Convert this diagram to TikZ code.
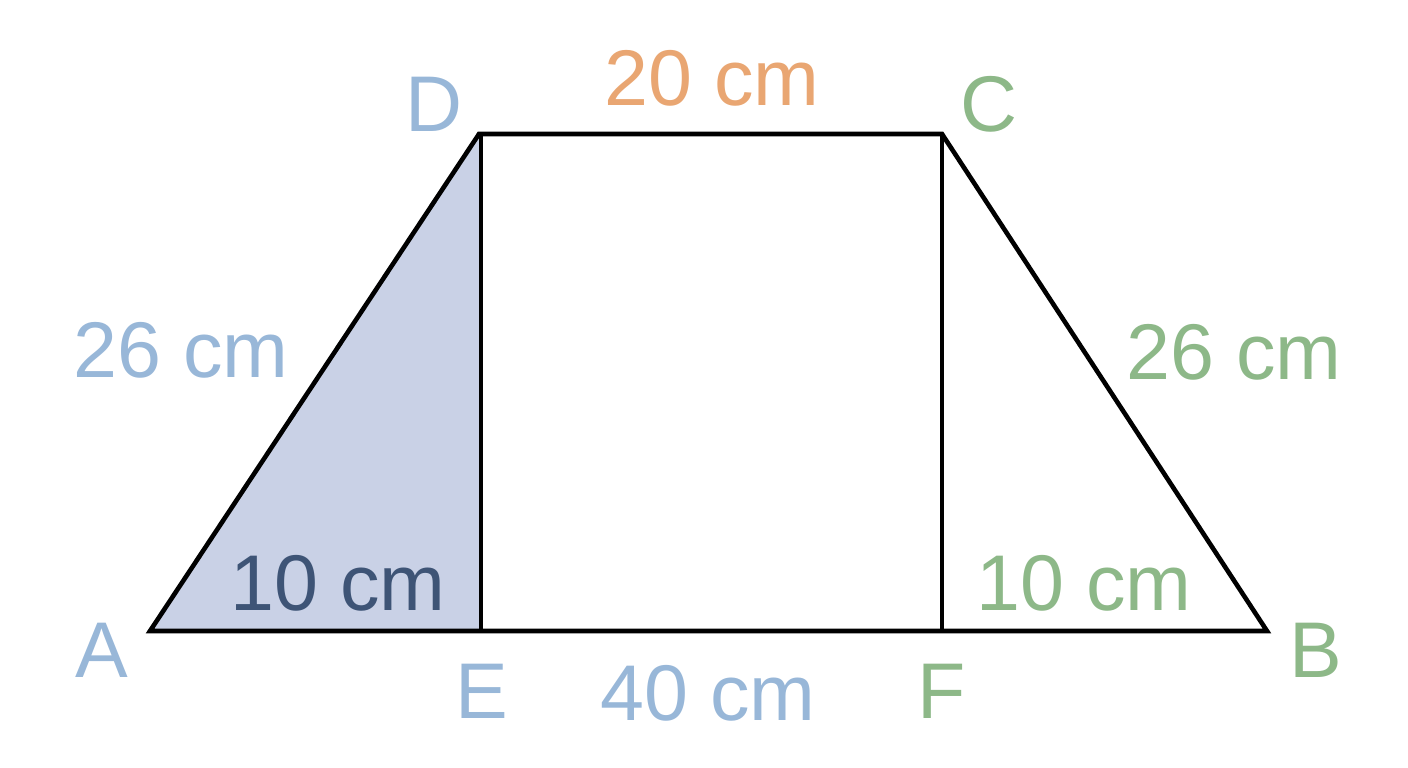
\documentclass[tikz,border=0pt]{standalone}
\usepackage{fontspec}
\setmainfont{Liberation Sans}
\definecolor{lblue}{RGB}{152,183,216}
\definecolor{lorange}{RGB}{233,166,114}
\definecolor{lgreen}{RGB}{141,184,136}
\definecolor{ldark}{RGB}{62,84,118}
\definecolor{tfill}{RGB}{201,209,230}
\begin{document}
\begin{tikzpicture}[x=1pt,y=-1pt,
  lbl/.style={inner sep=0pt,font=\fontsize{79}{84}\selectfont},
  edge/.style={draw=black,line width=4.6pt,line join=miter}]
\useasboundingbox (0,0) rectangle (1408,768);
\coordinate (A) at (150,631);
\coordinate (E) at (481,631);
\coordinate (F) at (942,631);
\coordinate (B) at (1267,631);
\coordinate (D) at (479,134);
\coordinate (C) at (942,134);
\coordinate (Dv) at (481,134);
\fill[tfill] (A) -- (Dv) -- (E) -- cycle;
\draw[edge] (A) -- (B) -- (C) -- (D) -- cycle;
\draw[edge] (Dv) -- (E);
\draw[edge] (C) -- (F);
\node[lbl,text=lorange] (t20) at (712,78) {20 cm};
\node[lbl,text=lblue] (tD) at (434,104) {D};
\node[lbl,text=lgreen] (tC) at (989,104) {C};
\node[lbl,text=lblue] (t26l) at (181,350) {26 cm};
\node[lbl,text=lgreen] (t26r) at (1234,352) {26 cm};
\node[lbl,text=ldark] (t10l) at (338,583) {10 cm};
\node[lbl,text=lgreen] (t10r) at (1084,583) {10 cm};
\node[lbl,text=lblue] (tA) at (102,650) {A};
\node[lbl,text=lgreen] (tB) at (1316,650) {B};
\node[lbl,text=lblue] (tE) at (482,691) {E};
\node[lbl,text=lblue] (t40) at (708,693) {40 cm};
\node[lbl,text=lgreen] (tF) at (942,691) {F};
\end{tikzpicture}
\end{document}
